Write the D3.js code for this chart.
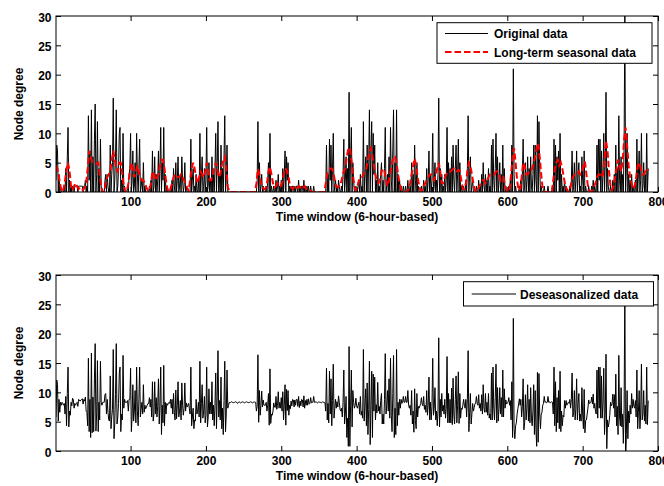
<!DOCTYPE html>
<html><head><meta charset="utf-8">
<script src="https://cdn.jsdelivr.net/npm/d3@7"></script>
<style>
body{margin:0;background:#fff}
text{font-family:"Liberation Sans",Arial,sans-serif;font-weight:bold;fill:#000}
</style>
</head><body><svg id="c" width="664" height="486"></svg>
<script>
// Original node degree per 6-hour window (window 1..787)
const originalData = [
2,8,7,0,3,0,1,0,0,0, 0,1,0,4,0,6,11,0,2,0, 1,0,1,1,0,1,1,1,1,0, 1,1,1,1,1,1,0,1,1,2,
0,1,0,13,2,7,0,14,0,6, 0,9,15,0,3,12,0,4,0,9, 1,0,0,0,0,2,3,0,3,1, 0,0,8,0,3,5,16,0,2,6,
14,0,1,4,10,11,0,2,0,10, 0,1,0,0,0,1,0,3,4,10, 0,2,7,0,1,5,0,10,3,0, 4,9,0,1,2,0,5,0,1,0,
0,0,0,0,1,0,2,0,7,0, 1,6,0,3,0,2,7,0,4,11, 0,5,2,11,0,3,0,1,0,0, 0,0,1,0,2,0,4,1,0,5,
0,2,6,0,1,3,0,6,2,0, 1,5,0,1,0,0,0,0,0,9, 0,2,4,0,1,0,3,0,0,2, 0,10,0,3,6,0,1,4,0,2,
11,0,1,5,0,2,0,6,0,3, 0,4,10,0,5,12,0,3,0,8, 0,4,0,6,13,0,2,8,0,0, 0,0,0,0,0,0,0,0,0,0,
0,0,0,0,0,0,0,0,0,0, 0,0,0,0,0,0,0,0,0,0, 0,0,0,0,0,0,0,2,12,0, 5,0,1,3,0,1,0,0,0,1,
0,2,5,0,10,0,1,0,0,1, 0,0,2,0,1,3,0,1,0,2, 0,4,0,3,7,0,6,2,5,0, 1,0,1,0,1,1,0,1,0,1,
1,0,2,0,1,0,1,1,0,2, 0,1,0,1,0,1,0,0,1,0, 0,0,1,0,0,0,0,0,0,0, 0,0,0,0,0,0,0,0,0,8,
0,3,0,9,2,8,0,4,10,0, 1,2,0,1,0,2,1,0,0,1, 0,3,9,0,2,6,0,4,0,17, 0,6,11,0,5,2,0,0,1,0,
0,1,2,0,3,0,1,0,12,0, 3,6,0,8,0,5,14,0,7,12, 0,10,3,8,0,2,0,5,0,1, 0,3,5,0,2,0,4,11,0,1,
3,0,6,0,11,2,0,7,14,0, 5,0,14,0,3,0,2,0,1,0, 0,1,0,0,1,0,0,2,0,0, 1,0,5,0,3,0,8,2,0,5,
0,1,0,0,0,1,0,0,2,0, 1,0,4,0,2,7,0,3,0,2, 10,0,1,5,0,2,0,3,16,0, 4,0,3,0,1,0,3,0,2,11,
0,5,0,4,0,6,0,8,2,0, 4,8,0,3,9,0,5,0,1,0, 0,1,0,0,2,0,4,13,0,3, 6,0,1,2,0,0,0,0,1,0,
0,2,0,1,0,3,0,5,1,0, 3,0,2,0,4,0,1,0,8,0, 9,2,0,4,10,0,6,0,2,5, 0,3,0,8,0,4,0,1,0,0,
0,1,0,2,0,8,0,21,3,0, 1,0,0,0,0,1,0,2,0,3, 9,0,1,5,0,2,6,0,4,0, 6,1,0,3,8,0,8,2,0,13,
0,12,4,0,1,0,0,0,1,0, 0,0,0,1,0,0,0,0,0,1, 0,9,0,8,0,6,2,7,0,10, 0,3,0,1,0,2,0,1,0,0,
0,0,1,0,2,7,0,1,5,0, 2,7,0,3,5,0,1,0,6,2, 0,7,0,1,0,0,0,1,0,0, 0,1,0,2,0,1,0,0,8,0,
9,2,9,0,7,0,3,10,0,5, 17,0,4,1,0,0,1,0,0,2, 0,3,0,8,0,4,0,13,2,0, 6,0,3,0,8,30,0,4,10,0,
3,0,2,0,3,0,1,0,0,2, 0,9,0,3,7,0,2,10,0,1, 5,0,3,0,10,0,4
];
// Long-term seasonal component, read at every second window (1,3,5,...,787)
const seasonalData = [
4.5,4,2.5,1,0,0.5,2,4,5,3.5, 1,0.3,1,1.5,1,0.5,0.8,0.5,0.3,0.8,
1.5,4,7,6,5.2,5,5,4.8,5,3, 1,0,0,1.5,2.5,3,3.5,5.5,7,5.5,
4,3.5,5,5,3,1,0,0,1.5,3.5, 5,4,2.5,3.5,4.5,3.5,2.5,2,2,1.5,
0.8,0.2,0.2,1.5,3.5,3,2,2.5,3,4.5, 5.5,5.5,4,2,0.5,0,0.5,1.5,2.5,3,
2.8,2.5,2.5,3,2.5,2,1.5,0.8,0.2,2, 4,5,4,2.5,1.5,2.5,3.5,3,2.5,3.5,
5,3.5,2,2,3,4,5,4,2.5,3, 4.5,5.5,6,4,1,0,0,0,0,0,
0,0,0,0,0,0,0,0,0,0, 0,0,0,1.5,3.9,3,1.5,0.8,0.5,0.5,
1.5,3.5,4.3,3,1.5,0.8,1,1.5,1,1, 1.5,3,4,3.8,3,1.5,0.8,0.5,0.8,0.5,
0.5,1,0.8,0.5,0.8,1,0.5,0.5,0.3,0.2, 0,0,0,0,0,0,0,0,0,1.5,
3,3.5,4,4,3.5,2,1,0.8,1,1.5, 2.5,3.5,4,6,7.5,7.5,5.5,3,1,0.3,
1,2,2,2.5,3,3.5,4,5.5,7,7.5, 6,4.5,3,1.8,1.5,2,3.5,4,3.5,2,
1,2,3.5,5,6,6,5,3,1.5,0.5, 0,0,0,0,0.5,1.5,3,4.5,5.7,4.5,
2.5,1,0.2,0.3,1,1.5,2,2.5,3,3, 2.5,2,3,4,5,3.5,1.5,1.5,2.5,3,
3.5,3.5,3.5,3.8,4,3.5,3.5,3.8,3.5,2, 0.5,0.5,1.5,3.5,5,4.5,3,1.5,0.3,0,
0.5,1,1.5,2,2,1.5,2,2.5,3,3, 3,3,3.5,3.5,3,2,2.5,2.5,1,0.3,
0,0.5,3,6,7.5,5,2,0.3,0.5,2.5, 5,4.5,3,3,3.5,3.5,4,5,6,7.5,
8.3,6,3,0.5,0,0,0,0,0,0, 2,4,5,5.5,4.5,5,4,2.5,1,0.5,
0,0.5,1.5,2.5,3,3,3,3.5,3,3.5, 4.5,5.2,3,1,0.2,0,0.3,1,1.5,2.5,
3,3,2.5,3,5.5,8.8,7,3.5,1,0.3, 1,2.5,4,5.5,4.5,3.5,5,9,11,8,
4.5,2.5,1.5,0.5,1,2.5,4.5,5,4,3, 3,3.5,4,3.7
];
// Deseasonalized series per window (1..787)
const deseasonalizedData = [
5.8,12.1,11.3,5.1,8.8,6.6,8.3,7.8,8.3,8.1, 7.8,8.1,6.3,9.3,4.3,9.8,14.3,4.1,6.8,6.1,
8.3,7.7,9,8.7,7.3,8.1,7.8,8.1,8.3,7.6, 8.8,8.7,8.5,8.7,8.8,8.9,8,8.8,8.5,9.2,
6.8,6.6,4.3,15.8,3.3,8.8,2.3,16.7,3.1,9.2, 3.3,12.3,18.3,3.4,6.5,15.4,3.3,8.3,5.3,15.3,
8.3,7.8,8.3,8.3,8.3,9.6,9.8,6.3,8.8,6.6, 5.3,5.1,12.8,3.8,5.8,7.1,17.3,2.1,4.8,9.6,
18.3,4.6,5.8,8.1,13.3,14.3,3.3,6.3,5.3,16.3, 7.3,8.8,8.3,8.3,8.3,8.6,6.8,8.8,8.8,14.1,
3.3,5.8,11.3,5.1,6.8,10.3,4.8,14.3,6.8,4.3, 8.8,14.3,5.8,7.1,8.3,6.3,11.3,6.6,7.8,7.2,
7.5,7.8,8.1,8.1,9.1,7.5,8.8,5.8,11.8,5.1, 6.3,11.8,6.3,9.1,5.8,7.6,12.3,4.6,7.8,14.3,
2.8,7.8,4.8,14.6,4.3,8.3,6.3,8.1,7.8,8.1, 8.3,8.1,8.8,7.3,8.8,6.3,9.8,6.6,5.3,10.4,
5.5,7.7,11.8,5.8,6.8,8.6,5.3,11.6,7.8,6.1, 7.3,11.6,6.8,8.2,7.5,7.8,8.1,7.2,6.3,14.3,
4.3,5.8,7.3,3.8,5.3,5.1,8.8,6.3,6.8,8.3, 5.8,15.3,4.8,8.1,11.3,5.6,6.8,9.3,4.8,6.1,
14.3,4.1,5.8,10.6,6.3,8.3,6.3,11.8,5.3,7.8, 4.3,7.8,13.3,3.8,9.3,17.1,5.8,8.6,5.3,12.6,
3.8,7.3,2.8,8.6,15.3,3.3,6.3,13.8,7.3,7.8, 8.3,8.2,8.3,8.4,8.3,8.3,8.2,8.3,8.4,8.3,
8.3,8.1,8.3,8.4,8.3,8.2,8.3,8.3,8.4,8.3, 8.2,8.3,8.3,8.4,8.3,8.3,8.2,8.3,8.4,8.3,
8.3,8.2,8.3,8.4,8.3,8.3,6.8,7.6,16.4,4.9, 10.3,6.1,7.8,10.2,7.5,8.7,7.8,7.8,7.8,8.3,
6.8,7.8,9.8,4.4,14,4.7,6.3,6.1,6.8,8.2, 7.5,7.4,9.3,7.1,7.8,10.1,7.3,8.3,7.3,9.1,
6.8,10.1,5.3,7.8,11.3,4.4,10.5,6.9,10.3,6.1, 7.8,7.2,8.5,7.7,8.8,8.7,7.5,8.7,7.8,8.8,
8.8,7.6,9.3,7.4,8.5,7.7,8.8,8.7,7.5,9.4, 7.3,8.6,7.8,8.8,7.8,8.9,8,8.1,9.1,8.2,
8.3,8.3,9.3,8.3,8.3,8.4,8.3,8.2,8.3,8.4, 8.3,8.3,8.2,8.3,8.4,8.3,8.3,8.2,6.8,14.1,
5.3,8.1,4.8,13.6,6.3,12.3,4.3,8.6,14.8,5.6, 7.3,8.8,7.3,8.4,7.5,9.4,8.3,7.1,6.8,7.3,
5.8,8.3,13.8,4.6,6.3,9.3,2.3,5.6,0.8,17.8, 0.8,7.8,13.8,4.1,10.3,8.3,7.3,7.7,9,7.7,
7.3,7.8,8.3,6.3,9.3,6.1,6.8,5.6,17.3,5.1, 7.8,10.6,4.3,11.6,2.8,7.1,15.3,1.1,7.8,13.6,
2.3,13.1,6.8,12.6,5.3,7.9,6.5,11.7,6.8,7.6, 6.3,8.6,9.8,4.6,6.3,4.6,8.8,16.6,6.3,7.8,
10.3,6.8,12.3,5.6,15.8,6.1,3.3,9.8,16.3,2.3, 7.3,2.8,17.3,4.3,8.3,6.1,8.8,7.3,8.8,8.1,
8.3,9.3,8.3,8.3,9.3,8.3,8.3,10.3,7.8,7.3, 7.8,6.1,10.3,4.6,6.8,3.2,10.6,5.2,3.8,9.8,
5.8,7.6,7.3,7.7,8.1,9.1,8,7.7,9.3,7.1, 7.8,6.6,10.3,6.1,7.8,12.6,5.3,8.3,5.3,7.6,
15.8,6.1,7.3,10.8,5.3,6.8,4.3,6.8,19.3,4.1, 8.8,5.8,9.8,6.8,7.8,6.3,8.8,5.6,7.3,16.1,
4.8,9.8,4.8,8.8,4.8,10.7,4.5,12.4,6.3,4.6, 8.8,12.8,4.8,7.7,13.5,4.7,9.8,5.6,7.3,7.1,
7.8,8.8,7.8,7.3,8.8,5.8,8.8,17.1,3.3,6.6, 9.8,4.6,6.3,8.1,6.8,7.4,8,8.2,9.3,8.1,
7.8,9.6,7.3,8.1,6.8,9.6,6.3,11.3,7.3,6.6, 9.8,6.6,8.3,6.1,9.8,5.6,6.3,5.3,13.3,5.3,
14.3,7.3,5.3,9.1,14.8,4.8,10.8,5.1,7.3,10.8, 6.3,9.1,5.8,13.8,5.8,10.6,7.3,8.7,8,8.2,
8.3,9.1,7.8,8.6,5.3,11.8,2.3,22.6,3.8,2.1, 4.3,4.8,6.3,7.2,8,8.9,7.8,8.8,5.8,7.6,
12.3,3.6,4.8,9.6,5.3,7.3,11.3,5.1,8.8,4.8, 10.8,5.6,4.3,6.8,11.3,2.8,10.3,3.6,0.8,13.4,
1.5,13.2,6.3,3.8,6.3,6.6,7.8,8.1,9.3,8.3, 8.4,8.2,8.3,9.3,8.3,8.4,8.2,8.3,8.4,8.3,
6.3,14.3,4.3,11.8,3.3,9.1,4.8,10.3,3.8,13.6, 3.3,6.8,4.3,6.1,5.8,8.6,7.3,8.6,7.8,8.1,
8.3,8.1,8.8,7.3,8.8,13.3,5.8,6.6,10.3,5.3, 7.3,12.3,5.3,8.1,9.8,5.1,6.3,5.1,10.8,6.3,
3.8,10.5,3.1,5.2,5.3,6.3,7.3,8.7,8.1,8.2, 8.3,9.2,8,9.7,7.3,8.1,6.8,6.3,13.8,5.6,
14.3,7.3,14.3,5.6,12.8,5.6,8.3,14.1,2.8,6.2, 16.5,0.4,5.3,4.1,4.8,6.1,8.3,7.7,8,9.7,
7.3,9.6,5.8,13.1,4.3,7.6,2.8,16.3,5.8,4.3, 10.8,4.1,6.3,1.3,7.3,28.3,-2.7,2.8,10.3,2.1,
6.8,4.8,7.8,6.3,9.8,7.3,8.8,7.6,7.3,8.6, 5.8,13.8,3.8,6.6,10.3,3.8,6.3,14.8,5.3,6.3,
10.3,5.1,7.8,4.6,14.3,4.5,8.6
];
const xTickValues = [100,200,300,400,500,600,700,800];
const yTickValues = [0,5,10,15,20,25,30];
const xDomain = [1, 800];
const yDomain = [0, 30];
const xTitle = "Time window (6-hour-based)";
const yTitle = "Node degree";
const legendTop = ["Original data", "Long-term seasonal data"];
const legendBottom = ["Deseasonalized data"];

const svg = d3.select("#c");
const left = 56, right = 658;
const x = d3.scaleLinear().domain(xDomain).range([left, right]);
const fs = 12;

function panel(top, bottom, id) {
  const y = d3.scaleLinear().domain(yDomain).range([bottom, top]);
  const g = svg.append("g");
  svg.append("clipPath").attr("id", id).append("rect")
    .attr("x", left).attr("y", top).attr("width", right-left).attr("height", bottom-top);
  const ax = d3.axisBottom(x).tickValues(xTickValues).tickSize(-5).tickPadding(5.5).tickSizeOuter(0);
  const gx = g.append("g").attr("transform", `translate(0,${bottom})`).call(ax);
  const axT = d3.axisTop(x).tickValues(xTickValues).tickSize(-5).tickFormat("").tickSizeOuter(0);
  const gxt = g.append("g").attr("transform", `translate(0,${top})`).call(axT);
  const ay = d3.axisLeft(y).tickValues(yTickValues).tickSize(-5).tickPadding(4.5).tickSizeOuter(0);
  const gy = g.append("g").attr("transform", `translate(${left},0)`).call(ay);
  const ayR = d3.axisRight(y).tickValues(yTickValues).tickSize(-5).tickFormat("").tickSizeOuter(0);
  const gyr = g.append("g").attr("transform", `translate(${right},0)`).call(ayR);
  [gx,gxt,gy,gyr].forEach(a => {
    a.select(".domain").remove();
    a.selectAll("line").attr("stroke","#000").attr("stroke-width",1);
    a.selectAll("text").attr("font-size", fs).attr("font-family",'"Liberation Sans",Arial,sans-serif').attr("font-weight","bold").attr("fill","#000");
  });
  gy.selectAll("text").attr("dy","0.42em");
  g.append("text").attr("x", (left+right)/2).attr("y", bottom+28.5).attr("text-anchor","middle")
    .attr("font-size", fs).text(xTitle);
  g.append("text").attr("transform", `translate(23,${(top+bottom)/2}) rotate(-90)`).attr("text-anchor","middle")
    .attr("font-size", fs).text(yTitle);
  return {y, g, top, bottom};
}

const p1 = panel(16, 192, "clip1");
const p2 = panel(275, 451, "clip2");

const line1 = d3.line().x((d,i)=>x(i+1)).y(d=>p1.y(d));
const lineS = d3.line().x((d,i)=>x(1+2*i)).y(d=>p1.y(d));
const line2 = d3.line().x((d,i)=>x(i+1)).y(d=>p2.y(d));

svg.append("path").datum(originalData).attr("d", line1).attr("clip-path","url(#clip1)")
  .attr("fill","none").attr("stroke","#000").attr("stroke-width",1);
svg.append("path").datum(seasonalData).attr("d", lineS).attr("clip-path","url(#clip1)")
  .attr("fill","none").attr("stroke","#ff0000").attr("stroke-width",2).attr("stroke-dasharray","6.5,3");
svg.append("path").datum(deseasonalizedData).attr("d", line2).attr("clip-path","url(#clip2)")
  .attr("fill","none").attr("stroke","#000").attr("stroke-width",1);

[p1,p2].forEach(p => svg.append("rect").attr("x",left).attr("y",p.top).attr("width",right-left).attr("height",p.bottom-p.top)
  .attr("fill","none").attr("stroke","#000").attr("stroke-width",1));

const lg1 = svg.append("g");
lg1.append("rect").attr("x",437).attr("y",22.7).attr("width",215).attr("height",40.6).attr("fill","#fff").attr("stroke","#000");
lg1.append("line").attr("x1",445).attr("x2",488).attr("y1",33.5).attr("y2",33.5).attr("stroke","#000").attr("stroke-width",1);
lg1.append("line").attr("x1",445).attr("x2",488).attr("y1",52).attr("y2",52).attr("stroke","#ff0000").attr("stroke-width",2).attr("stroke-dasharray","6.5,3");
lg1.append("text").attr("x",494).attr("y",37.5).attr("font-size",fs).text(legendTop[0]);
lg1.append("text").attr("x",494).attr("y",56.5).attr("font-size",fs).text(legendTop[1]);

const lg2 = svg.append("g");
lg2.append("rect").attr("x",463.5).attr("y",281.7).attr("width",190).attr("height",24.3).attr("fill","#fff").attr("stroke","#000");
lg2.append("line").attr("x1",471.7).attr("x2",516).attr("y1",294).attr("y2",294).attr("stroke","#000").attr("stroke-width",1);
lg2.append("text").attr("x",520).attr("y",298.5).attr("font-size",fs).text(legendBottom[0]);
</script>
</body></html>
